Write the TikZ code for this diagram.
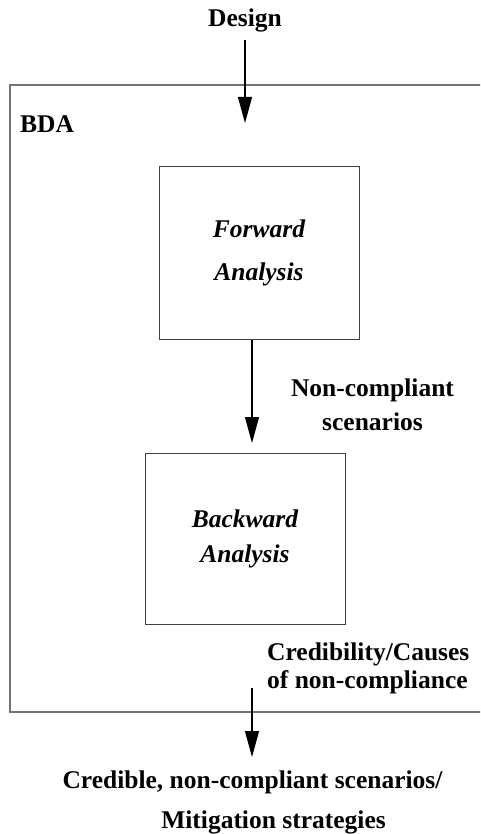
\documentclass[tikz,border=0pt]{standalone}
\usepackage{fontspec}
\setmainfont{Liberation Serif}
\usetikzlibrary{arrows.meta}
\begin{document}
\begin{tikzpicture}[x=1pt,y=-1pt,
  lbl/.style={font=\fontsize{25.5}{30.6}\selectfont\bfseries, inner sep=0pt},
  boxtxt/.style={font=\fontsize{25.5}{30.6}\selectfont\bfseries\itshape, align=center},
  stage/.style={draw=black!75, line width=1pt, minimum width=200pt, inner sep=0pt},
  frame/.style={draw=black!55, line width=1.2pt},
  arr/.style={line width=1.1pt, -{Triangle[length=26pt,width=14pt]}},
]
\useasboundingbox (0,0) rectangle (480,834);
\clip (0,0) rectangle (480,834);
\draw[frame] (10,85) rectangle (490,712);
\node[lbl, anchor=base west] (bda) at (20,133) {BDA};
\node[lbl, anchor=base] (design) at (245,27) {Design};
\node[stage, boxtxt, minimum height=172pt] (fa) at (259,253) {Forward\\[12.4pt]Analysis};
\node[stage, boxtxt, minimum height=171pt] (ba) at (245,538.5) {Backward\\[4.4pt]Analysis};
\node[lbl, align=center] (nc) at (372.5,404.3) {Non-compliant\\[3.4pt]scenarios};
\node[lbl, align=left, anchor=west] (cc) at (267,668) {Credibility/Causes\\[-2.6pt]of non-compliance};
\node[lbl, anchor=base] (out1) at (252.5,788) {Credible, non-compliant scenarios/};
\node[lbl, anchor=base] (out2) at (273.5,828) {Mitigation strategies};
\coordinate (d1) at (245,40);
\coordinate (d2) at (245,123);
\coordinate (f1) at ([xshift=-7pt]fa.south);
\coordinate (b0) at (252,443);
\coordinate (e1) at (252,688);
\coordinate (e2) at (252,757);
\draw[arr] (d1) -- (d2);
\draw[arr] (f1) -- (b0);
\draw[arr] (e1) -- (e2);
\end{tikzpicture}
\end{document}
